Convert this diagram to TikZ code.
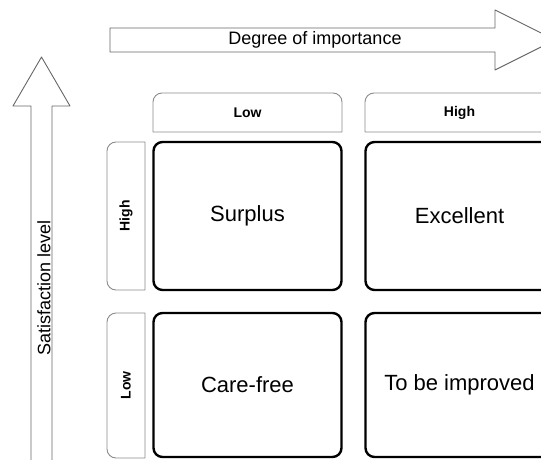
\documentclass[tikz,border=0pt]{standalone}
\usepackage{fontspec}
\setmainfont{Liberation Sans}

\begin{document}
\begin{tikzpicture}[x=1pt, y=-1pt, line join=round, line cap=round,
	cell/.style={draw=black, line width=2.4pt, rounded corners=9pt, minimum width=188pt, font=\fontsize{22}{26}\selectfont},
	axis/.style={draw=black!60, line width=0.9pt},
	tag/.style={draw=black!45, line width=0.9pt},
	tagtext/.style={font=\fontsize{14}{16}\selectfont\bfseries}]
	\useasboundingbox (0,0) rectangle (541,460);
	\def \xl{153} \def \xh{365} \def \w{189}
	
	% the two axes
	\draw[axis] (110,28) -- (495,28) -- (495,10) -- (555,40) -- (495,70) -- (495,52) -- (110,52) -- cycle;
	\node[font=\fontsize{18}{20}\selectfont] (imp) at (315,40) {Degree of importance};
	\draw[axis] (31,470) -- (31,106) -- (13,106) -- (41.5,57) -- (70,106) -- (52,106) -- (52,470);
	\node[rotate=90, font=\fontsize{18}{20}\selectfont] (sat) at (44,288) {Satisfaction level};
	
	% column tags
	\foreach \x/\t/\n in {\xl/Low/collow, \xh/High/colhigh}{
		\draw[tag] (\x,132) [rounded corners=9pt] -- (\x,93) -- (\x+\w,93) [sharp corners] -- (\x+\w,132) -- cycle;
		\node[tagtext] (\n) at (\x+\w/2,113) {\t};
	}
	% row tags
	\foreach \a/\b/\t/\n in {142/290/High/rowhigh, 313/458/Low/rowlow}{
		\draw[tag] (145,\a) [rounded corners=9pt] -- (107,\a) -- (107,\b) [sharp corners] -- (145,\b) -- cycle;
		\node[tagtext, rotate=90] (\n) at (126,{(\a+\b)/2}) {\t};
	}
	
	% the four cells
	\node[cell, minimum height=148pt] (surplus) at (\xl+\w/2,216) {Surplus};
	\node[cell, minimum height=148pt] (excellent) at (\xh+\w/2,216) {Excellent};
	\node[cell, minimum height=144pt] (carefree) at (\xl+\w/2,385) {Care-free};
	\node[cell, minimum height=144pt] (improve) at (\xh+\w/2,385) {To be improved};
\end{tikzpicture}
\end{document}
